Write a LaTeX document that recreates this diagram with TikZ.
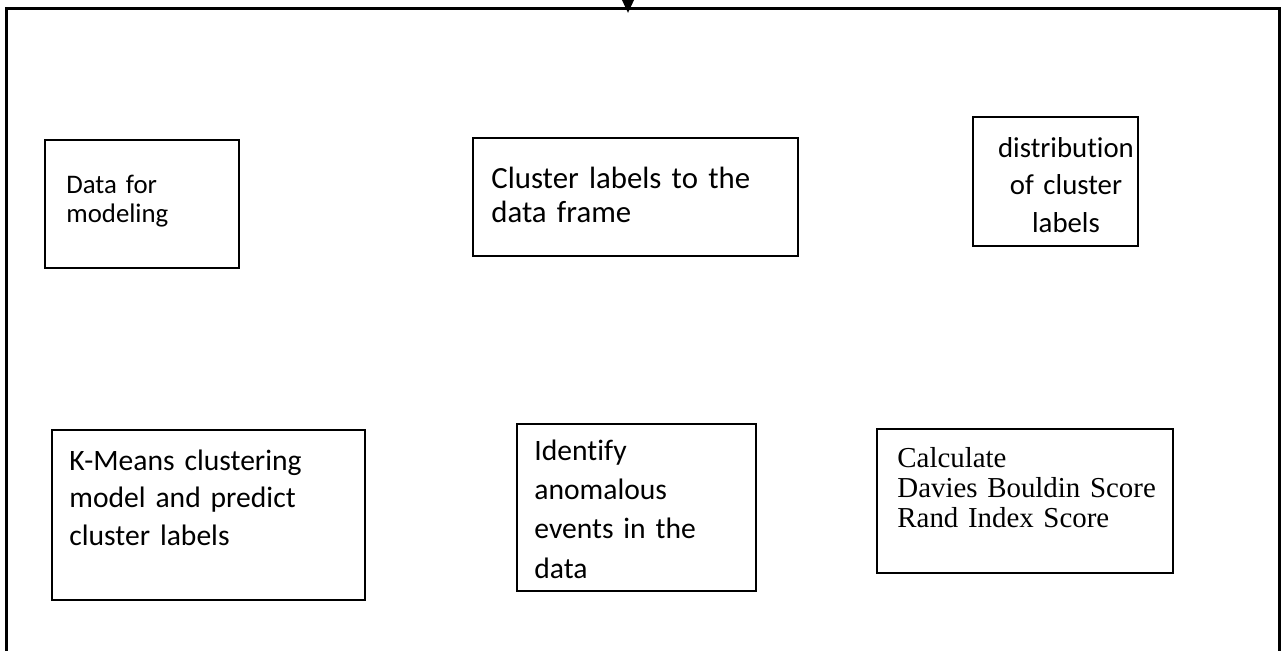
\documentclass[tikz,border=0pt]{standalone}
\usepackage{fontspec}
\setmainfont{Carlito}[Ligatures=NoCommon]
\newfontfamily\timesfont{Liberation Serif}
\usetikzlibrary{calc,arrows.meta}

\begin{document}
\begin{tikzpicture}[x=1pt,y=-1pt,
    box/.style={draw,line width=1.25pt,inner sep=0pt},
    txt/.style={anchor=base west,inner sep=0pt,align=left,text width=#1},
    fsz/.style 2 args={font=\fontsize{#1}{#2}\selectfont},
    flow/.style={line width=1.5pt,-{Triangle[width=7pt,length=8pt]}}]
  \useasboundingbox (0,0) rectangle (640.5,325);
  \clip (0,0) rectangle (640.5,325);
  % outer frame and incoming arrow
  \draw[line width=1.5pt] (3.1,4.35) rectangle (639.75,340);
  \coordinate (src) at (314,-20);
  \coordinate (dst) at (314,6.5);
  \draw[flow] (src) -- (dst);
  % upper row
  \node[box,minimum width=97pt,minimum height=64pt] (data) at (71,102) {};
  \node[txt=80pt,fsz={13.4pt}{14.5pt}] (dataT) at (33,96.5) {Data for\\modeling};
  \node[box,minimum width=162.5pt,minimum height=59pt] (label) at (317.75,98.5) {};
  \node[txt=150pt,fsz={15.4pt}{17pt}] (labelT) at (245.5,94.25) {Cluster labels to the\\data frame};
  \node[box,minimum width=82.5pt,minimum height=64.5pt] (dist) at (527.75,90.75) {};
  \node[txt=80pt,anchor=base,align=center,fsz={14.4pt}{18.75pt}] (distT) at (533,78.5) {distribution\\of cluster\\labels};
  % lower row
  \node[box,minimum width=156.5pt,minimum height=85pt] (kmeans) at (104.25,257.5) {};
  \node[txt=150pt,fsz={14.8pt}{18.75pt}] (kmeansT) at (34.5,235) {K-Means clustering\\model and predict\\cluster labels};
  \node[box,minimum width=119.5pt,minimum height=83.5pt] (anom) at (318.25,253.75) {};
  \node[txt=110pt,fsz={14.8pt}{19.7pt}] (anomT) at (267,230) {Identify\\anomalous\\events in the\\data};
  \node[box,minimum width=148pt,minimum height=72pt] (score) at (512.5,250.5) {};
  \node[txt=140pt,font=\timesfont\fontsize{14.45pt}{15pt}\selectfont] (scoreT) at (448.5,233.5) {Calculate\\Davies Bouldin Score\\Rand Index Score};
\end{tikzpicture}
\end{document}
